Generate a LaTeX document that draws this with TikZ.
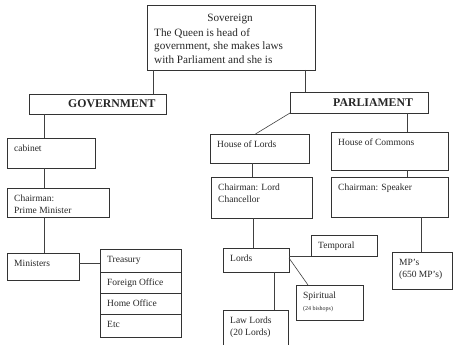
\documentclass[tikz,border=0pt]{standalone}
\usepackage{fontspec}
\setmainfont{Liberation Serif}
\newcommand\bx[6]{%
 \pgfmathsetmacro\myW{#4-#2}%
 \pgfmathsetmacro\myH{#5-#3}%
 \node[boxst,minimum width=\myW pt,minimum height=\myH pt,anchor=north west] (#1) at (#2,#3) {};%
 \node[txt,anchor=north west] (#1t) at ([shift={(7,7)}]#1.north west) {#6};%
}
\begin{document}
\begin{tikzpicture}[x=1pt,y=-1pt,
  boxst/.style={draw=black!80,line width=0.6pt,inner sep=0pt,outer sep=0pt},
  txt/.style={inner sep=0pt,align=left,font=\fontsize{9.5}{11.5}\selectfont,text=black!85},
  big/.style={inner sep=0pt,font=\fontsize{11.2}{13.6}\selectfont,text=black!85},
  conn/.style={draw=black!75,line width=0.6pt}]
\useasboundingbox (0,0) rectangle (455,345);

% top
\node[boxst,minimum width=168pt,minimum height=65pt,anchor=north west] (sov) at (147,5) {};
\node[big,anchor=north] (sovt) at (230,14) {Sovereign};
\node[big,anchor=north west,align=left] (sovb) at (154,28) {The Queen is head of\\government, she makes laws\\with Parliament and she is};

\node[boxst,minimum width=137pt,minimum height=20pt,anchor=north west] (gov) at (29,94) {};
\node[big,font=\bfseries\fontsize{11.8}{14}\selectfont,anchor=west] (govt) at ([xshift=39pt]gov.west) {GOVERNMENT};
\node[boxst,minimum width=138pt,minimum height=21pt,anchor=north west] (parl) at (290,92) {};
\node[big,font=\bfseries\fontsize{11.8}{14}\selectfont,anchor=west] (parlt) at ([xshift=43pt]parl.west) {PARLIAMENT};

% government side
\bx{cab}{7}{138}{95}{168}{cabinet}
\bx{cpm}{7}{188}{109}{217}{Chairman:\\Prime Minister}
\bx{min}{7}{253}{79}{280}{Ministers}
\bx{tre}{100}{249}{181}{272}{Treasury}
\bx{for}{100}{272}{181}{293}{Foreign Office}
\bx{hom}{100}{293}{181}{314}{Home Office}
\bx{etc}{100}{314}{181}{337}{Etc}

% parliament side
\bx{hol}{210}{134}{309}{163}{House of Lords}
\bx{chc}{211}{177}{312}{218}{Chairman: Lord\\Chancellor}
\bx{hoc}{331}{132}{448}{170}{House of Commons}
\bx{spk}{331}{177}{448}{217}{Chairman: Speaker}
\bx{mps}{392}{252}{452}{289}{MP's\\(650 MP's)}
\bx{lords}{223}{248}{289}{272}{Lords}
\bx{tem}{311}{235}{377}{256}{Temporal}
\bx{spi}{296}{285}{363}{320}{Spiritual\\{\fontsize{6}{8}\selectfont(24 bishops)}}
\bx{law}{223}{310}{288}{356}{Law Lords\\(20 Lords)}

% connectors
\draw[conn] ([xshift=6pt]sov.south west) coordinate (c1) -- (c1 |- gov.north);
\draw[conn] ([xshift=-10pt]sov.south east) coordinate (c2) -- (c2 |- parl.north);
\draw[conn] ([xshift=15pt]gov.south west) coordinate (c3) -- (c3 |- cab.north);
\draw[conn] ([xshift=37pt]cab.south west) coordinate (c4) -- (c4 |- cpm.north);
\draw[conn] ([xshift=37pt]cpm.south west) coordinate (c5) -- (c5 |- min.north);
\draw[conn] ([yshift=-10pt]min.north east) coordinate (c6) -- (c6 -| tre.west);
\draw[conn] (parl.south west) -- ([xshift=-4pt]hol.north);
\draw[conn] ([xshift=-21pt]parl.south east) coordinate (c7) -- (c7 |- hoc.north);
\draw[conn] ([xshift=42pt]hol.south west) coordinate (c8) -- (c8 |- chc.north);
\draw[conn] ([xshift=76pt]hoc.south west) coordinate (c9) -- (c9 |- spk.north);
\draw[conn] ([xshift=90pt]spk.south west) coordinate (c10) -- (c10 |- mps.north);
\draw[conn] ([xshift=42pt]chc.south west) coordinate (c11) -- (c11 |- lords.north);
\draw[conn] (lords.east |- tem.south) -- (tem.south west);
\draw[conn] ([yshift=-10pt]lords.north east) -- ([xshift=12pt]spi.north west);
\draw[conn] ([xshift=51pt]lords.south west) coordinate (c12) -- (c12 |- law.north);
\end{tikzpicture}
\end{document}
